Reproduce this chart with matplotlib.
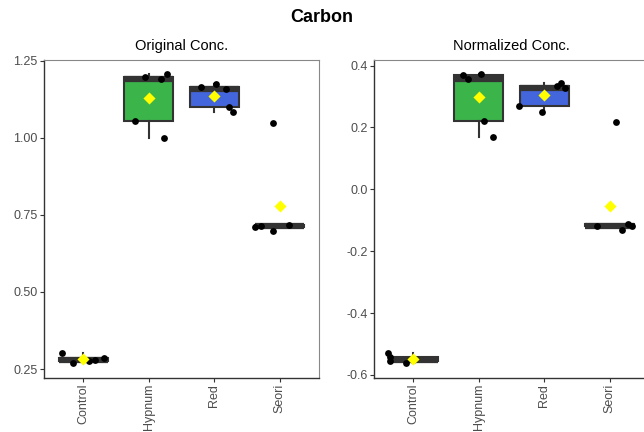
import numpy as np
import matplotlib
matplotlib.use("Agg")
import matplotlib.pyplot as plt

plt.rcParams['font.family'] = ['Liberation Sans', 'DejaVu Sans']

# categories and measured values (5 replicates each)
groups = ["Control", "Hypnum", "Red", "Seori"]
fills = ["#333333", "#3BB54A", "#4466DD", "#333333"]

orig_vals = [
    [0.301, 0.269, 0.277, 0.280, 0.287],
    [1.053, 1.198, 1.190, 1.205, 1.000],
    [1.163, 1.174, 1.158, 1.100, 1.082],
    [0.710, 0.713, 0.699, 0.716, 1.048],
]
orig_jit = [
    [-0.33, -0.15, 0.09, 0.18, 0.32],
    [-0.21, -0.06, 0.18, 0.28, 0.23],
    [-0.20, 0.03, 0.18, 0.22, 0.28],
    [-0.37, -0.28, -0.11, 0.14, -0.10],
]

norm_vals = [
    [-0.530, -0.541, -0.555, -0.562, -0.552],
    [0.370, 0.357, 0.373, 0.222, 0.169],
    [0.270, 0.250, 0.334, 0.344, 0.329],
    [-0.119, -0.133, -0.113, -0.118, 0.219],
]
norm_jit = [
    [-0.39, -0.35, -0.36, -0.11, 0.0],
    [-0.24, -0.16, 0.03, 0.08, 0.21],
    [-0.39, -0.04, 0.20, 0.26, 0.32],
    [-0.20, 0.18, 0.28, 0.34, 0.10],
]

orig_ticks = [0.25, 0.50, 0.75, 1.00, 1.25]
norm_ticks = [-0.6, -0.4, -0.2, 0.0, 0.2, 0.4]

fig = plt.figure(figsize=(6.44, 4.32), dpi=100)
ax1 = fig.add_axes([44 / 644, 1 - 377.7 / 432, 275 / 644, 317.7 / 432])
ax2 = fig.add_axes([374 / 644, 1 - 377.7 / 432, 275 / 644, 317.7 / 432])


def panel(ax, vals, jit, ticks, fmt, ylim, title):
    pos = np.arange(1, len(groups) + 1)
    bp = ax.boxplot(vals, positions=pos, widths=0.75, patch_artist=True,
                    showfliers=False, whis=1.5,
                    boxprops=dict(edgecolor="#333333", linewidth=1.5),
                    whiskerprops=dict(color="#333333", linewidth=1.5),
                    capprops=dict(linewidth=0),
                    medianprops=dict(color="#333333", linewidth=4.5,
                                     solid_capstyle="butt"))
    for patch, c in zip(bp["boxes"], fills):
        patch.set_facecolor(c)
    for i, (v, j) in enumerate(zip(vals, jit)):
        ax.scatter(pos[i] + np.array(j), v, s=24, color="black", zorder=3,
                   linewidths=0)
        ax.scatter(pos[i], np.mean(v), s=38, marker="D", color="#FFFF00",
                   zorder=4, linewidths=0)
    ax.set_xlim(0.4, 4.6)
    ax.set_ylim(*ylim)
    ax.set_xticks(pos)
    ax.set_xticklabels(groups, rotation=90, fontsize=9, color="#4D4D4D")
    ax.set_yticks(ticks)
    ax.set_yticklabels([fmt.format(t).replace("\u2212", "-") for t in ticks],
                       fontsize=9, color="#4D4D4D")
    ax.tick_params(length=3, width=0.8, color="#333333", pad=1.5)
    for s in ["left", "bottom"]:
        ax.spines[s].set_color("#333333")
        ax.spines[s].set_linewidth(1.0)
    for s in ["top", "right"]:
        ax.spines[s].set_color("#888888")
        ax.spines[s].set_linewidth(0.8)
    ax.set_title(title, fontsize=10.5, pad=7)


panel(ax1, orig_vals, orig_jit, orig_ticks, "{:.2f}", (0.222, 1.252),
      "Original Conc.")
panel(ax2, norm_vals, norm_jit, norm_ticks, "{:.1f}", (-0.609, 0.418),
      "Normalized Conc.")

fig.text(0.5, 1 - 17 / 432, "Carbon", ha="center", va="center",
         fontsize=13, fontweight="bold")

fig.savefig("out.png", dpi=100)
